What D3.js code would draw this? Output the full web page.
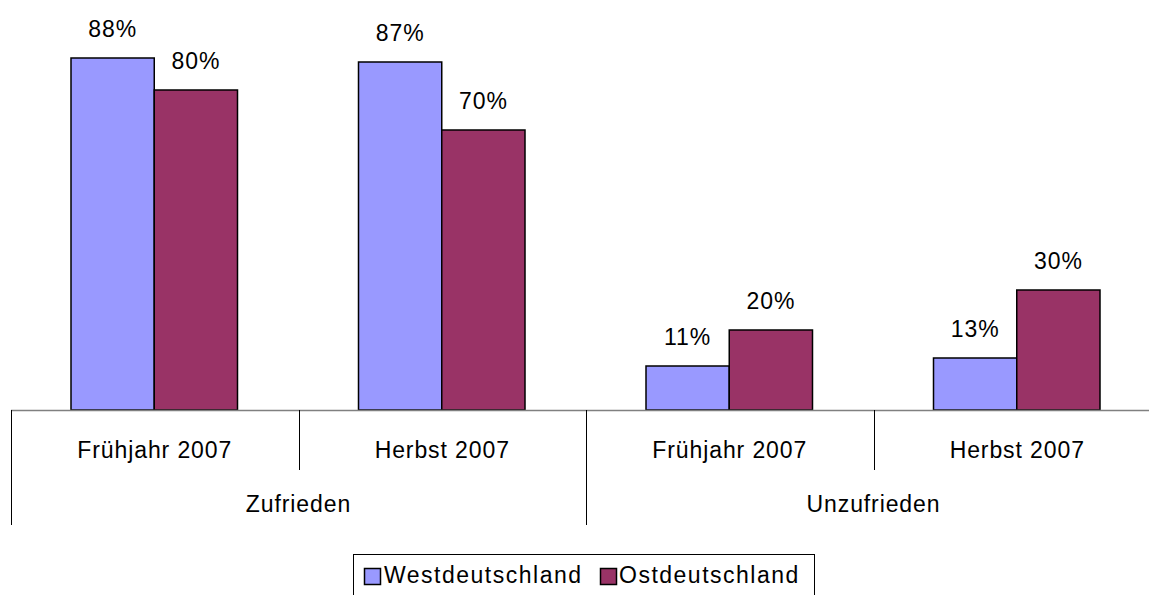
<!DOCTYPE html>
<html>
<head>
<meta charset="utf-8">
<script src="https://cdn.jsdelivr.net/npm/d3@7"></script>
<style>
  body { margin: 0; background: #fff; }
  svg { display: block; font-family: "Liberation Sans", Arial, sans-serif; }
</style>
</head>
<body>
<div id="chart"></div>
<script>
const groups = ["Zufrieden", "Unzufrieden"];
const periods = ["Frühjahr 2007", "Herbst 2007"];
const series = ["Westdeutschland", "Ostdeutschland"];
const westValues = [88, 87, 11, 13];
const eastValues = [80, 70, 20, 30];
const colors = ["#9999FF", "#993366"];

const width = 1149, height = 595;
const left = 11, baseY = 410;
const fs = 23, ls = 0.9;

const cats = [];
groups.forEach((g) => periods.forEach((p) => cats.push({ group: g, period: p })));
cats.forEach((c, i) => { c.values = [westValues[i], eastValues[i]]; c.key = i; });

const x0 = d3.scaleBand()
  .domain(cats.map((c) => c.key))
  .range([left, left + 287.5 * 4])
  .paddingInner(0)
  .paddingOuter(0);

const x1 = d3.scaleBand()
  .domain(series)
  .range([60, 287.5 - 61]);

const y = d3.scaleLinear().domain([0, 100]).range([baseY, 10]);

const svg = d3.select("#chart").append("svg")
  .attr("width", width).attr("height", height);

const g = svg.append("g")
  .selectAll("g")
  .data(cats)
  .join("g")
  .attr("transform", (d) => `translate(${x0(d.key)},0)`);

g.selectAll("rect")
  .data((d) => d.values.map((v, i) => ({ v, s: series[i], i })))
  .join("rect")
  .attr("x", (d) => x1(d.s))
  .attr("y", (d) => y(d.v))
  .attr("width", x1.bandwidth())
  .attr("height", (d) => baseY - y(d.v))
  .attr("fill", (d) => colors[d.i])
  .attr("stroke", "#000")
  .attr("stroke-width", 1.5);

g.selectAll("text")
  .data((d) => d.values.map((v, i) => ({ v, s: series[i] })))
  .join("text")
  .attr("x", (d) => x1(d.s) + x1.bandwidth() / 2)
  .attr("y", (d) => y(d.v) - 21)
  .attr("text-anchor", "middle")
  .attr("font-size", fs)
  .attr("letter-spacing", ls)
  .text((d) => d.v + "%");

// category axis
const axis = svg.append("g").attr("stroke", "#000").attr("stroke-width", 1);
axis.append("line")
  .attr("x1", left).attr("x2", width)
  .attr("y1", baseY + 0.5).attr("y2", baseY + 0.5)
  .attr("stroke", "#808080").attr("stroke-width", 1.5);

cats.forEach((c, i) => {
  const xs = Math.round(x0(c.key)) + 0.5;
  const major = i % periods.length === 0;
  axis.append("line")
    .attr("x1", xs).attr("x2", xs)
    .attr("y1", baseY).attr("y2", major ? 525 : 470);
  svg.append("text")
    .attr("x", x0(c.key) + x0.bandwidth() / 2)
    .attr("y", 458)
    .attr("text-anchor", "middle")
    .attr("font-size", fs)
    .attr("letter-spacing", ls)
    .text(c.period);
});

groups.forEach((gr, i) => {
  svg.append("text")
    .attr("x", x0(i * periods.length) + x0.bandwidth())
    .attr("y", 512)
    .attr("text-anchor", "middle")
    .attr("font-size", fs)
    .attr("letter-spacing", ls)
    .text(gr);
});

// legend
const legend = svg.append("g");
legend.append("rect")
  .attr("x", 353.5).attr("y", 554.5)
  .attr("width", 461).attr("height", 50)
  .attr("fill", "#fff").attr("stroke", "#000");

const items = [{ s: series[0], x: 364, tx: 384 }, { s: series[1], x: 600, tx: 619 }];
items.forEach((it, i) => {
  legend.append("rect")
    .attr("x", it.x + 0.5).attr("y", 568.5)
    .attr("width", 16).attr("height", 16)
    .attr("fill", colors[i]).attr("stroke", "#000").attr("stroke-width", 1.5);
  legend.append("text")
    .attr("x", it.tx).attr("y", 583)
    .attr("font-size", fs)
    .attr("letter-spacing", 1.5)
    .text(it.s);
});
</script>
</body>
</html>
